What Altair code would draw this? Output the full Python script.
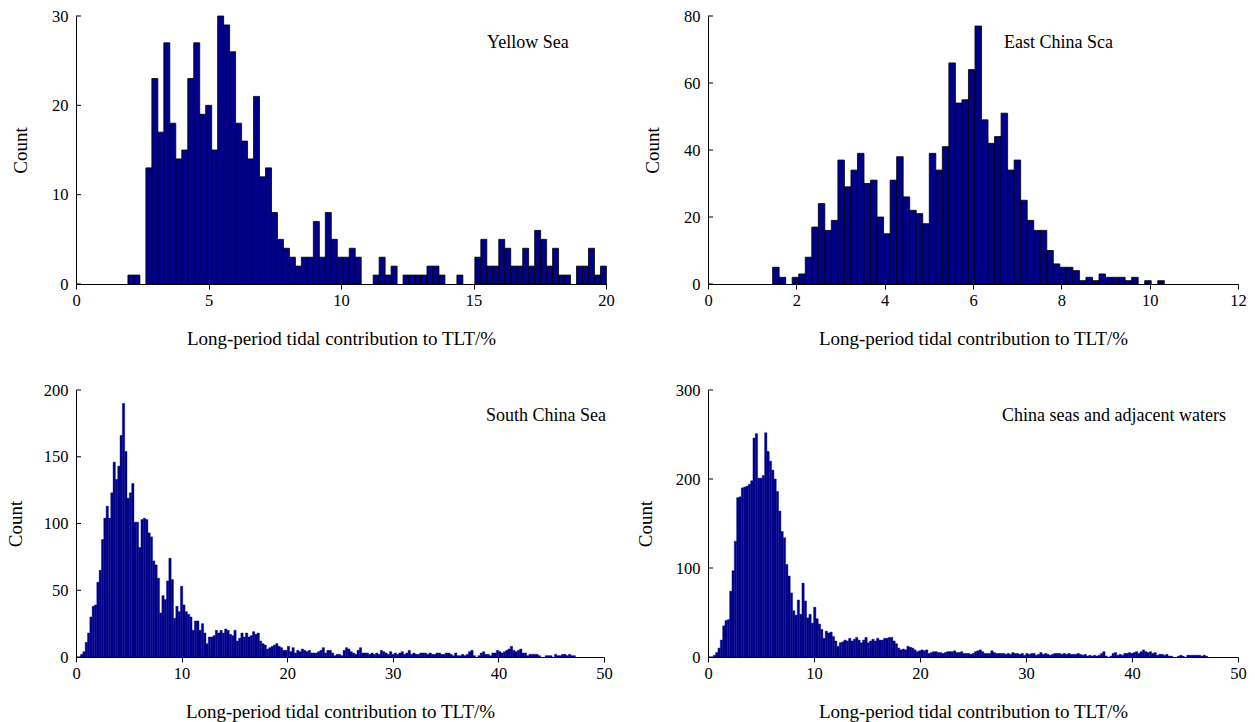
import altair as alt
import pandas as pd

# ---------------- data ----------------
# Yellow Sea: 80 bins starting at 1.96, width 0.2257
ys_start, ys_width = 1.96, 0.2257
ys_counts = [1, 1, 0, 13, 23, 17, 27, 18, 14, 15,
             23, 27, 19, 20, 15, 30, 29, 26, 18, 16,
             14, 21, 12, 13, 8, 5, 4, 3, 2, 3,
             3, 7, 3, 8, 5, 3, 3, 4, 3, 0,
             0, 1, 3, 1, 2, 0, 1, 1, 1, 1,
             2, 2, 1, 0, 0, 1, 0, 0, 3, 5,
             2, 2, 5, 4, 2, 2, 4, 2, 6, 5,
             2, 4, 1, 1, 0, 2, 2, 4, 1, 2]

# East China Sea: 60 bins starting at 1.463, width 0.1478
ecs_start, ecs_width = 1.463, 0.1478
ecs_counts = [5, 2, 0, 2, 3, 8, 17, 24, 16, 19,
              37, 29, 34, 39, 30, 31, 20, 15, 31, 38,
              26, 22, 21, 18, 39, 34, 41, 66, 54, 55,
              64, 77, 49, 42, 44, 51, 34, 37, 25, 19,
              16, 16, 10, 6, 5, 5, 4, 1, 2, 1,
              3, 2, 2, 2, 1, 2, 0, 1, 0, 1]

# South China Sea: bins starting at 0.43, width 0.22
scs_start, scs_width = 0.43, 0.22
scs_counts = [2, 4, 11, 18, 30, 38, 39, 56, 65, 88,
              104, 113, 104, 123, 146, 133, 143, 166, 190, 154,
              119, 123, 130, 101, 101, 82, 103, 104, 103, 93,
              90, 72, 69, 59, 33, 46, 43, 57, 74, 58,
              29, 38, 34, 53, 39, 34, 32, 30, 20, 27,
              27, 20, 25, 18, 10, 15, 15, 16, 20, 18,
              20, 18, 21, 20, 17, 16, 20, 12, 14, 18,
              15, 18, 15, 16, 19, 17, 18, 12, 10, 9,
              6, 7, 8, 9, 10, 8, 7, 5, 5, 8,
              4, 7, 3, 5, 4, 6, 5, 4, 5, 3,
              3, 3, 4, 5, 7, 3, 5, 5, 3, 1,
              2, 2, 1, 5, 7, 6, 4, 3, 2, 5,
              7, 3, 3, 3, 2, 3, 2, 3, 2, 5,
              4, 3, 2, 4, 2, 3, 2, 3, 4, 2,
              3, 5, 2, 3, 2, 2, 3, 3, 3, 2,
              3, 2, 2, 3, 3, 2, 2, 3, 3, 2,
              1, 3, 1, 1, 2, 1, 2, 4, 5, 1,
              0, 1, 3, 4, 2, 2, 1, 3, 3, 5,
              4, 3, 4, 5, 6, 8, 5, 4, 5, 6,
              3, 3, 1, 2, 2, 2, 2, 1, 0, 0,
              1, 1, 1, 0, 2, 1, 1, 2, 2, 1,
              2, 1, 1]

# China seas and adjacent waters: bins starting at 0.5, width 0.22
cs_start, cs_width = 0.5, 0.22
cs_counts = [2, 5, 10, 19, 35, 41, 42, 74, 97, 130,
             179, 180, 190, 191, 192, 194, 198, 246, 251, 201,
             201, 204, 252, 231, 220, 210, 200, 186, 164, 141,
             134, 104, 91, 72, 52, 47, 64, 48, 83, 63,
             44, 48, 38, 56, 43, 37, 31, 21, 29, 27,
             28, 23, 18, 12, 16, 17, 19, 18, 21, 18,
             20, 22, 19, 16, 19, 22, 16, 18, 20, 18,
             21, 19, 19, 21, 21, 22, 22, 18, 15, 10,
             8, 9, 8, 12, 11, 10, 8, 6, 7, 8,
             7, 8, 4, 5, 6, 6, 5, 5, 4, 5,
             6, 6, 6, 7, 5, 5, 6, 4, 4, 4,
             3, 4, 6, 7, 8, 6, 4, 4, 4, 7,
             5, 4, 4, 4, 4, 3, 4, 3, 5, 4,
             4, 3, 4, 2, 4, 3, 4, 4, 2, 3,
             5, 3, 4, 3, 2, 3, 4, 4, 4, 3,
             4, 3, 4, 3, 3, 3, 4, 3, 2, 3,
             1, 2, 1, 2, 1, 2, 4, 6, 1, 0,
             1, 4, 5, 2, 3, 2, 4, 4, 5, 4,
             5, 6, 4, 6, 8, 6, 5, 6, 4, 5,
             2, 3, 3, 2, 3, 1, 1, 0, 0, 1,
             2, 1, 0, 2, 2, 2, 2, 2, 2, 1,
             2, 1]

x_title = "Long-period tidal contribution to TLT/%"
labels = ["Yellow Sea", "East China Sca", "South China Sea", "China seas and adjacent waters"]

ys_xticks = [0, 5, 10, 15, 20]
ys_yticks = [0, 10, 20, 30]
ecs_xticks = [0, 2, 4, 6, 8, 10, 12]
ecs_yticks = [0, 20, 40, 60, 80]
scs_xticks = [0, 10, 20, 30, 40, 50]
scs_yticks = [0, 50, 100, 150, 200]
cs_xticks = [0, 10, 20, 30, 40, 50]
cs_yticks = [0, 100, 200, 300]

FONT = "Liberation Serif"
BAR = "#000088"


def panel(counts, start, width, xticks, yticks, label, w, h, outlined,
          ytitle_x, label_x, label_y):
    n = len(counts)
    df = pd.DataFrame({
        "x0": [start + i * width for i in range(n)],
        "x1": [start + (i + 1) * width for i in range(n)],
        "count": counts,
        "base": [0] * n,
    })
    df = df[df["count"] > 0]
    xscale = alt.Scale(domain=[xticks[0], xticks[-1]], nice=False, zero=False)
    yscale = alt.Scale(domain=[yticks[0], yticks[-1]], nice=False)
    mark_kw = dict(fill=BAR, stroke="#000000", strokeWidth=0.8) if outlined \
        else dict(fill=BAR, stroke=BAR, strokeWidth=0.4)
    bars = alt.Chart(df).mark_rect(**mark_kw).encode(
        x=alt.X("x0:Q", scale=xscale,
                axis=alt.Axis(values=xticks, title=x_title, labelFlush=False,
                              tickSize=5, labelPadding=3, titleBaseline="middle",
                              titleY=54, grid=False)),
        x2="x1",
        y=alt.Y("count:Q", scale=yscale,
                axis=alt.Axis(values=yticks, title="Count", ticks=False,
                              labelPadding=8, grid=False, titleX=ytitle_x,
                              titleY=h / 2, titleBaseline="middle")),
        y2="base",
    )
    tick_df = pd.DataFrame({"v": yticks})
    ticks = alt.Chart(tick_df).mark_rule(color="#000000", strokeWidth=1).encode(
        y=alt.Y("v:Q", scale=yscale),
        x=alt.value(0),
        x2=alt.value(5),
    )
    text = alt.Chart(pd.DataFrame({"t": [label]})).mark_text(
        font=FONT, fontSize=18, align="left", baseline="middle", color="#000000"
    ).encode(text="t:N", x=alt.value(label_x), y=alt.value(label_y))
    return alt.layer(bars, ticks, text).properties(width=w, height=h)


p1 = panel(ys_counts, ys_start, ys_width, ys_xticks, ys_yticks, labels[0],
           530, 268, True, -56, 411, 27)
p2 = panel(ecs_counts, ecs_start, ecs_width, ecs_xticks, ecs_yticks, labels[1],
           530, 268, True, -56, 296, 27)
p3 = panel(scs_counts, scs_start, scs_width, scs_xticks, scs_yticks, labels[2],
           528, 267, False, -61, 410, 26)
p4 = panel(cs_counts, cs_start, cs_width, cs_xticks, cs_yticks, labels[3],
           530, 267, False, -63, 294, 26)

chart = alt.concat(
    p1, p2, p3, p4, columns=2,
    spacing={"row": 106, "column": 102}, bounds="flush",
).properties(
    padding={"left": 6, "top": 8, "right": 8, "bottom": 2},
    background="#ffffff",
).configure_view(stroke=None).configure_axis(
    domainColor="#000000", domainWidth=1, tickColor="#000000", tickWidth=1,
    labelFont=FONT, labelFontSize=16.5, labelColor="#000000",
    titleFont=FONT, titleFontSize=19, titleFontWeight="normal", titleColor="#000000",
    labelOverlap=False,
)

chart.save("out.html", embed_options={"renderer": "svg", "actions": False})
